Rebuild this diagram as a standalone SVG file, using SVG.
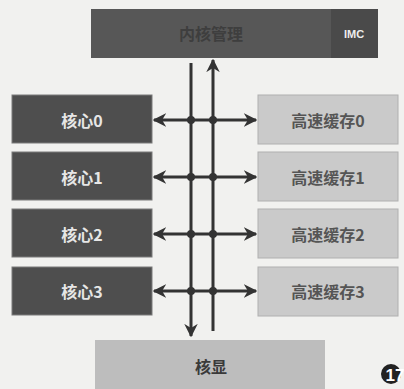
<svg xmlns="http://www.w3.org/2000/svg" width="404" height="389" viewBox="0 0 404 389">
<style>
.t{font-family:"Noto Sans CJK SC","Liberation Serif",serif;font-size:16px;font-weight:bold;text-anchor:middle;dominant-baseline:central}
.core rect{fill:#4e4e4e;stroke:#7a7a7a;stroke-width:1}
.core text{fill:#e6e6e6}
.cache rect{fill:#cacaca;stroke:#b0b0b0;stroke-width:1}
.cache text{fill:#555}
.ln{stroke:#333;stroke-width:3;fill:none}
.dot{fill:#333}
</style>
<defs>
<marker id="ah" viewBox="0 0 10 10" refX="9" refY="5" markerWidth="4.5" markerHeight="4.5" orient="auto-start-reverse" markerUnits="strokeWidth">
<path d="M0,0 L10,5 L0,10 L3,5 Z" fill="#333"/>
</marker>
</defs>
<rect width="404" height="389" fill="#f1f1ef"/>
<g id="kernel">
<rect x="91" y="9" width="240" height="49" fill="#575757"/>
<text class="t" x="211" y="33" fill="#3e3e3e">内核管理</text>
</g>
<g id="imc">
<rect x="331" y="9" width="47" height="49" fill="#4a4a4a"/>
<text x="354" y="34" font-family="'Liberation Sans',sans-serif" font-size="11" font-weight="bold" fill="#eee" text-anchor="middle" dominant-baseline="central">IMC</text>
</g>
<g id="core0" class="core"><rect x="12" y="95" width="140" height="48"/><text class="t" x="82" y="120">核心0</text></g>
<g id="core1" class="core"><rect x="12" y="152" width="140" height="48"/><text class="t" x="82" y="177">核心1</text></g>
<g id="core2" class="core"><rect x="12" y="209" width="140" height="48"/><text class="t" x="82" y="234">核心2</text></g>
<g id="core3" class="core"><rect x="12" y="267" width="140" height="48"/><text class="t" x="82" y="291">核心3</text></g>
<g id="cache0" class="cache"><rect x="258" y="95" width="140" height="49"/><text class="t" x="328" y="120">高速缓存0</text></g>
<g id="cache1" class="cache"><rect x="258" y="152" width="140" height="49"/><text class="t" x="328" y="177">高速缓存1</text></g>
<g id="cache2" class="cache"><rect x="258" y="209" width="140" height="49"/><text class="t" x="328" y="234">高速缓存2</text></g>
<g id="cache3" class="cache"><rect x="258" y="267" width="140" height="49"/><text class="t" x="328" y="291">高速缓存3</text></g>
<g id="gpu">
<rect x="95" y="340" width="230" height="49" fill="#bdbdbd"/>
<text class="t" x="211" y="366" fill="#3a3a3a">核显</text>
</g>
<g id="connectors">
<line class="ln" x1="191" y1="63" x2="191" y2="336" marker-end="url(#ah)"/>
<line class="ln" x1="213" y1="331" x2="213" y2="60" marker-end="url(#ah)"/>
<line class="ln" x1="154" y1="120" x2="256" y2="120" marker-start="url(#ah)" marker-end="url(#ah)"/>
<line class="ln" x1="154" y1="177" x2="256" y2="177" marker-start="url(#ah)" marker-end="url(#ah)"/>
<line class="ln" x1="154" y1="234" x2="256" y2="234" marker-start="url(#ah)" marker-end="url(#ah)"/>
<line class="ln" x1="154" y1="291" x2="256" y2="291" marker-start="url(#ah)" marker-end="url(#ah)"/>
<circle class="dot" cx="191" cy="120" r="4"/><circle class="dot" cx="213" cy="120" r="4"/>
<circle class="dot" cx="191" cy="177" r="4"/><circle class="dot" cx="213" cy="177" r="4"/>
<circle class="dot" cx="191" cy="234" r="4"/><circle class="dot" cx="213" cy="234" r="4"/>
<circle class="dot" cx="191" cy="291" r="4"/><circle class="dot" cx="213" cy="291" r="4"/>
</g>
<g id="badge">
<circle cx="391" cy="374" r="10" fill="#222"/>
<text x="395" y="375" font-family="'Liberation Sans',sans-serif" font-size="17" font-weight="bold" fill="#fff" text-anchor="middle" dominant-baseline="central">17</text>
</g>
</svg>
